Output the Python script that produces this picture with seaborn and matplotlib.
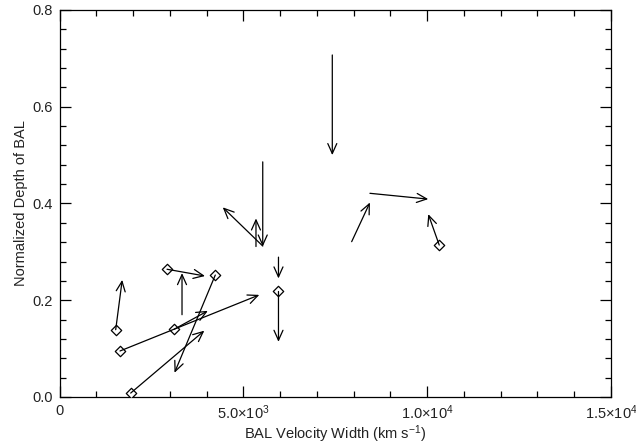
import matplotlib
matplotlib.use("Agg")
import matplotlib.pyplot as plt
import seaborn as sns
import pandas as pd
from matplotlib.ticker import MultipleLocator, FixedLocator

sns.set_theme(style="ticks")
plt.rcParams['font.family'] = ['Liberation Sans', 'DejaVu Sans']
plt.rcParams['mathtext.fontset'] = 'custom'
plt.rcParams['mathtext.rm'] = 'Liberation Sans'
plt.rcParams['mathtext.it'] = 'Liberation Sans'

# Arrow start points (x0,y0) and end points (x1,y1)
x0 = [1528, 2924, 3332, 4237, 1645, 3120, 1936, 5528, 5344, 5528, 5956, 5956, 7420, 7947, 8444, 10329]
y0 = [0.139, 0.264, 0.170, 0.252, 0.095, 0.140, 0.008, 0.486, 0.311, 0.312, 0.289, 0.218, 0.707, 0.321, 0.421, 0.314]
x1 = [1705, 3957, 3332, 3128, 5435, 4035, 3939, 5528, 5344, 4440, 5956, 5956, 7420, 8444, 10030, 10030]
y1 = [0.242, 0.250, 0.256, 0.050, 0.211, 0.178, 0.137, 0.311, 0.369, 0.392, 0.245, 0.114, 0.500, 0.402, 0.409, 0.378]
# Whether the start point carries a diamond marker
marked = [True, True, False, True, True, True, True, False, False, False, False, True, False, False, False, True]

xticks = [0, 5000, 10000, 15000]
xticklabels = ['0', r'5.0$\times$10$^3$', r'1.0$\times$10$^4$', r'1.5$\times$10$^4$']
yticks = [0.0, 0.2, 0.4, 0.6, 0.8]
yticklabels = ['0.0', '0.2', '0.4', '0.6', '0.8']

fig = plt.figure(figsize=(6.36, 4.44), dpi=100)
ax = fig.add_axes([0.0936, 0.106, 0.867, 0.8715])

df = pd.DataFrame({'x': x0, 'y': y0, 'm': marked})
pts = df[df['m']]
sns.scatterplot(data=pts, x='x', y='y', marker='D', s=28, facecolor='white',
                edgecolor='black', linewidth=0.9, ax=ax, zorder=3)

for a, b, c, d in zip(x0, y0, x1, y1):
    ax.annotate('', xy=(c, d), xytext=(a, b), xycoords='data', textcoords='data',
                arrowprops=dict(arrowstyle='->,head_length=0.6,head_width=0.27',
                                color='black', lw=0.9, shrinkA=0, shrinkB=0))

ax.set_xlim(0, 15000)
ax.set_ylim(0, 0.8)
ax.xaxis.set_major_locator(FixedLocator(xticks))
ax.set_xticklabels(xticklabels)
ax.yaxis.set_major_locator(FixedLocator(yticks))
ax.set_yticklabels(yticklabels)
ax.xaxis.set_minor_locator(MultipleLocator(1000))
ax.yaxis.set_minor_locator(MultipleLocator(0.04))
ax.tick_params(which='both', direction='in', top=True, right=True, color='black',
               width=0.9, labelsize=10.5, labelcolor='#222222')
ax.tick_params(which='major', length=8, pad=5)
ax.tick_params(which='minor', length=4)
for sp in ax.spines.values():
    sp.set_color('black')
    sp.set_linewidth(0.9)

ax.set_xlabel(r'BAL Velocity Width (km s$^{-1}$)', fontsize=10.5, color='#222222', labelpad=1)
ax.set_ylabel('Normalized Depth of BAL', fontsize=10.5, color='#222222', labelpad=3)

fig.savefig('out.png', dpi=100, facecolor='white')
